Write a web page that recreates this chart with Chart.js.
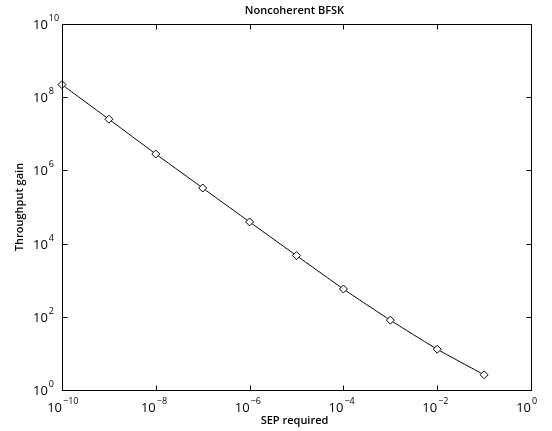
<!DOCTYPE html>
<html>
<head>
<meta charset="utf-8">
<title>Noncoherent BFSK</title>
<script src="https://cdn.jsdelivr.net/npm/chart.js@4.4.1/dist/chart.umd.min.js"></script>
<style>
  html, body { margin: 0; padding: 0; background: #fff; }
  #wrap { width: 552px; height: 431px; }
</style>
</head>
<body>
<div id="wrap"><canvas id="gainChart" width="552" height="431"></canvas></div>
<script>
// ===== data =====
const sepRequired = [1e-10, 1e-9, 1e-8, 1e-7, 1e-6, 1e-5, 1e-4, 1e-3, 1e-2, 1e-1];
const throughputGain = [2.2e8, 2.5e7, 2.8e6, 3.3e5, 3.9e4, 4.7e3, 575, 81, 13, 2.6];
const xTickExps = [-10, -8, -6, -4, -2, 0];
const yTickExps = [0, 2, 4, 6, 8, 10];

const titleText = 'Noncoherent BFSK';
const xLabel = 'SEP required';
const yLabel = 'Throughput gain';

(function() {
  'use strict';

  const FONT = '"Open Sans", "Liberation Sans", Arial, sans-serif';

  function expText(e) {
    return e < 0 ? '\u2212' + Math.abs(e) : String(e);
  }

  // box + inward ticks + 10^n labels (matlab look)
  const axesPlugin = {
    id: 'matlabAxes',
    afterDatasetsDraw(chart) {
      const ctx = chart.ctx;
      const a = chart.chartArea;
      const xs = chart.scales.x;
      const ys = chart.scales.y;
      const L = Math.round(a.left) + 0.5;
      const R = Math.round(a.right) + 0.5;
      const T = Math.round(a.top) + 0.5;
      const B = Math.round(a.bottom) + 0.5;

      ctx.save();
      ctx.strokeStyle = '#000';
      ctx.lineWidth = 1;
      ctx.strokeRect(L, T, R - L, B - T);

      // tick marks
      ctx.beginPath();
      xTickExps.forEach(e => {
        const px = Math.round(xs.getPixelForValue(Math.pow(10, e))) + 0.5;
        ctx.moveTo(px, B); ctx.lineTo(px, B - 5);
        ctx.moveTo(px, T); ctx.lineTo(px, T + 5);
      });
      yTickExps.forEach(e => {
        const py = Math.round(ys.getPixelForValue(Math.pow(10, e))) + 0.5;
        ctx.moveTo(L, py); ctx.lineTo(L + 5, py);
        ctx.moveTo(R, py); ctx.lineTo(R - 5, py);
      });
      ctx.stroke();

      ctx.fillStyle = '#000';
      ctx.textBaseline = 'alphabetic';

      // x tick labels
      xTickExps.forEach(e => {
        const px = xs.getPixelForValue(Math.pow(10, e));
        ctx.font = '13px ' + FONT;
        ctx.textAlign = 'right';
        ctx.fillText('10', px, a.bottom + 22);
        ctx.font = '9px ' + FONT;
        ctx.textAlign = 'left';
        ctx.fillText(expText(e), px + 1, a.bottom + 14);
      });

      // y tick labels
      yTickExps.forEach(e => {
        const py = ys.getPixelForValue(Math.pow(10, e));
        ctx.font = '13px ' + FONT;
        ctx.textAlign = 'left';
        ctx.fillText('10', 33, py + 5);
        const w = ctx.measureText('10').width;
        ctx.font = '9px ' + FONT;
        ctx.fillText(expText(e), 33 + w + 1, py - 3);
      });

      // title and axis labels
      const midX = (a.left + a.right) / 2;
      ctx.font = '600 11px ' + FONT;
      ctx.textAlign = 'center';
      ctx.textBaseline = 'middle';
      ctx.fillText(titleText, midX - 2, 11);
      ctx.fillText(xLabel, midX - 2, 421);

      ctx.translate(20, (a.top + a.bottom) / 2);
      ctx.rotate(-Math.PI / 2);
      ctx.fillText(yLabel, 0, 0);
      ctx.restore();
    }
  };

  const ctx = document.getElementById('gainChart').getContext('2d');
  new Chart(ctx, {
    type: 'line',
    data: {
      datasets: [{
        label: 'Throughput gain',
        data: sepRequired.map((x, i) => ({ x: x, y: throughputGain[i] })),
        borderColor: '#000',
        borderWidth: 1,
        backgroundColor: '#fff',
        pointStyle: 'rectRot',
        pointRadius: 4,
        pointBorderWidth: 1,
        pointBorderColor: '#000',
        pointBackgroundColor: '#fff',
        tension: 0.15,
        fill: false,
        clip: false
      }]
    },
    options: {
      responsive: false,
      animation: false,
      devicePixelRatio: 1,
      layout: { padding: { left: 62, top: 24, right: 21, bottom: 41 } },
      plugins: {
        legend: { display: false },
        tooltip: { enabled: false }
      },
      scales: {
        x: { type: 'logarithmic', min: 1e-10, max: 1, display: false },
        y: { type: 'logarithmic', min: 1, max: 1e10, display: false }
      }
    },
    plugins: [axesPlugin]
  });
})();
</script>
</body>
</html>
